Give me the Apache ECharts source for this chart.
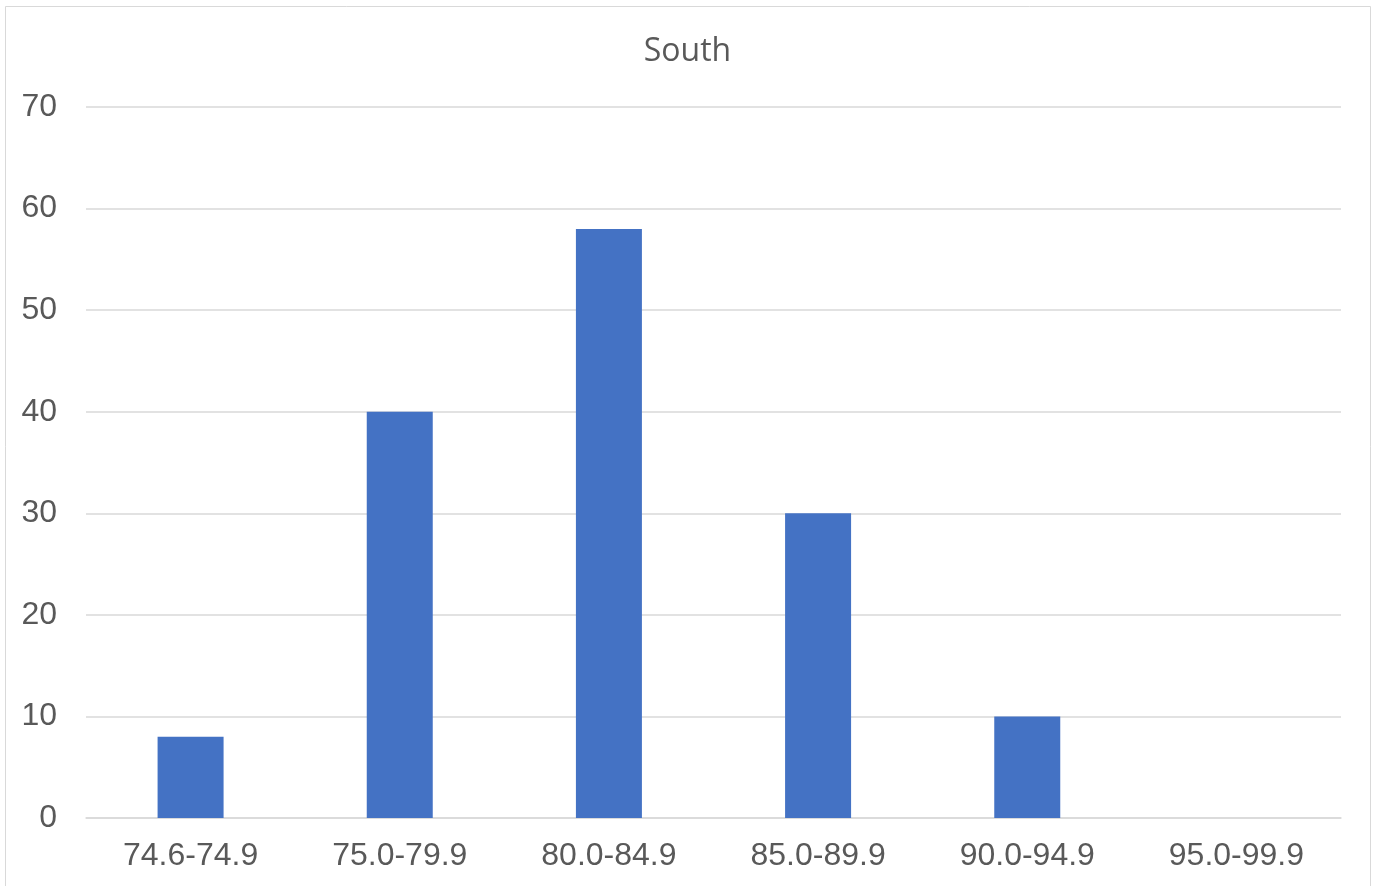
<!DOCTYPE html>
<html>
<head>
<meta charset="utf-8">
<script src="https://cdn.jsdelivr.net/npm/echarts@6/dist/echarts.min.js"></script>
<style>
html,body{margin:0;padding:0;background:#fff;}
#chart{width:1375px;height:886px;}
</style>
</head>
<body>
<div id="chart"></div>
<script>
const title = "South";
const categories = ["74.6-74.9", "75.0-79.9", "80.0-84.9", "85.0-89.9", "90.0-94.9", "95.0-99.9"];
const values = [8, 40, 58, 30, 10, 0];
const yMin = 0, yMax = 70, yStep = 10;

const chart = echarts.init(document.getElementById('chart'), null, {renderer: 'canvas'});
chart.setOption({
  animation: false,
  backgroundColor: '#ffffff',
  graphic: [{
    type: 'rect',
    shape: {x: 5.5, y: 6.5, width: 1365, height: 890},
    style: {fill: 'none', stroke: '#d9d9d9', lineWidth: 1},
    silent: true
  }],
  title: {
    text: title,
    left: 'center',
    top: 31,
    textStyle: {fontFamily: 'Open Sans', fontSize: 32, fontWeight: 'normal', color: '#595959'}
  },
  grid: {left: 86, right: 34, top: 107, bottom: 68},
  xAxis: {
    type: 'category',
    data: categories,
    axisLine: {show: true, lineStyle: {color: '#d9d9d9', width: 1.5}},
    axisTick: {show: false},
    axisLabel: {fontFamily: 'Liberation Sans', fontSize: 32, color: '#595959', margin: 22}
  },
  yAxis: {
    type: 'value',
    min: yMin, max: yMax, interval: yStep,
    axisLine: {show: false},
    axisTick: {show: false},
    splitLine: {lineStyle: {color: '#d9d9d9', width: 1.5}},
    axisLabel: {fontFamily: 'Liberation Sans', fontSize: 32, color: '#595959', margin: 29}
  },
  series: [{
    type: 'bar',
    data: values,
    barWidth: 66,
    itemStyle: {color: '#4472C4'}
  }]
});
</script>
</body>
</html>
